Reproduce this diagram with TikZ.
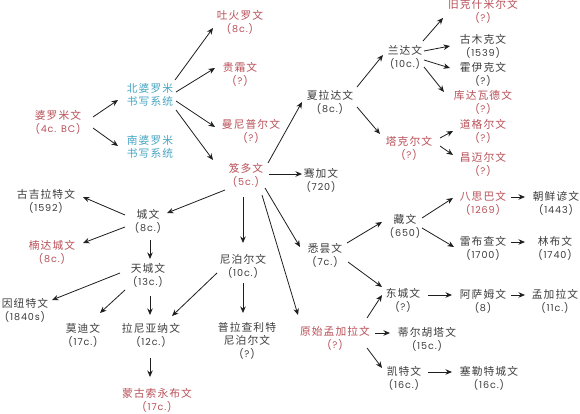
\documentclass[tikz,border=0pt]{standalone}
\usepackage{fontspec}
\setmainfont{Poppins}[LetterSpace=9]
\newfontfamily\cjk{Noto Sans CJK SC}[LetterSpace=10,Scale=1.12]
\usetikzlibrary{arrows.meta,calc}
\definecolor{redt}{RGB}{185,80,88}
\definecolor{bluet}{RGB}{70,165,195}
\definecolor{blackt}{RGB}{60,60,60}
\definecolor{arrc}{RGB}{30,30,30}
\begin{document}
\begin{tikzpicture}[x=1pt,y=-1pt,
  lbl/.style={align=center,inner sep=0pt,text=blackt,font=\fontsize{9.6}{13}\selectfont},
  rl/.style={lbl,text=redt},
  bl/.style={lbl,text=bluet},
  arr/.style={draw=arrc,line width=0.8pt,-{Stealth[length=6.5pt,width=5.5pt]}}]
\useasboundingbox[fill=white] (0,0) rectangle (580,414);
% nodes
\node[rl] (brahmi) at (58,122) {{\cjk 婆罗米文}\\(4c. BC)};
\node[bl] (north) at (150,95) {{\cjk 北婆罗米}\\{\cjk 书写系统}};
\node[bl] (south) at (150,147) {{\cjk 南婆罗米}\\{\cjk 书写系统}};
\node[rl] (tochar) at (240,22) {{\cjk 吐火罗文}\\(8c.)};
\node[rl] (kushan) at (240,74) {{\cjk 贵霜文}\\(?)};
\node[rl] (manipur) at (251,131) {{\cjk 曼尼普尔文}\\(?)};
\node[rl] (gupta) at (246,175) {{\cjk 笈多文}\\(5c.)};
\node[lbl] (sharada) at (330,102) {{\cjk 夏拉达文}\\(8c.)};
\node[lbl] (qianjia) at (321,180) {{\cjk 骞加文}\\(720)};
\node[lbl] (landa) at (405,57) {{\cjk 兰达文}\\(10c.)};
\node[rl] (takri) at (409,148) {{\cjk 塔克尔文}\\(?)};
\node[rl] (oldkash) at (483,11) {{\cjk 旧克什米尔文}\\(?)};
\node[lbl] (gurmukhi) at (483,46) {{\cjk 古木克文}\\(1539)};
\node[lbl] (khojki) at (483,74) {{\cjk 霍伊克文}\\(?)};
\node[rl] (khudawadi) at (483,102) {{\cjk 库达瓦德文}\\(?)};
\node[rl] (dogri) at (483,131) {{\cjk 道格尔文}\\(?)};
\node[rl] (chameali) at (483,164) {{\cjk 昌迈尔文}\\(?)};
\node[lbl] (nagari) at (148,221) {{\cjk 城文}\\(8c.)};
\node[lbl] (gujarati) at (46,201) {{\cjk 古吉拉特文}\\(1592)};
\node[rl] (nandi) at (52,252) {{\cjk 楠达城文}\\(8c.)};
\node[lbl] (deva) at (148,275) {{\cjk 天城文}\\(13c.)};
\node[lbl] (inuit) at (25,310) {{\cjk 因纽特文}\\(1840s)};
\node[lbl] (modi) at (83,335) {{\cjk 莫迪文}\\(17c.)};
\node[lbl] (ranjana) at (151,335) {{\cjk 拉尼亚纳文}\\(12c.)};
\node[rl] (soyombo) at (157,400) {{\cjk 蒙古索永布文}\\(17c.)};
\node[lbl] (nepal) at (243,266) {{\cjk 尼泊尔文}\\(10c.)};
\node[lbl] (prachalit) at (247,341) {{\cjk 普拉查利特}\\{\cjk 尼泊尔文}\\(?)};
\node[lbl] (siddham) at (325,255) {{\cjk 悉昙文}\\(7c.)};
\node[lbl] (tibetan) at (405,226) {{\cjk 藏文}\\(650)};
\node[rl] (phags) at (483,203) {{\cjk 八思巴文}\\(1269)};
\node[lbl] (hangul) at (556,203) {{\cjk 朝鲜谚文}\\(1443)};
\node[lbl] (lepcha) at (483,248) {{\cjk 雷布查文}\\(1700)};
\node[lbl] (limbu) at (555,248) {{\cjk 林布文}\\(1740)};
\node[lbl] (eastnagari) at (403,300) {{\cjk 东城文}\\(?)};
\node[lbl] (assam) at (483,301) {{\cjk 阿萨姆文}\\(8)};
\node[lbl] (bengali) at (555,301) {{\cjk 孟加拉文}\\(11c.)};
\node[rl] (protobeng) at (335,338) {{\cjk 原始孟加拉文}\\(?)};
\node[lbl] (tirhuta) at (427,339) {{\cjk 蒂尔胡塔文}\\(15c.)};
\node[lbl] (kaithi) at (404,378) {{\cjk 凯特文}\\(16c.)};
\node[lbl] (sylheti) at (489,378) {{\cjk 塞勒特城文}\\(16c.)};
% arrows
\draw[arr] ($(brahmi)+(35,-5)$) -- ($(north)+(-32,5)$);
\draw[arr] ($(brahmi)+(35,6)$) -- ($(south)+(-32,-1)$);
\draw[arr] ($(north)+(25,-15)$) -- ($(tochar)+(-27,6)$);
\draw[arr] ($(north)+(26,-3)$) -- ($(kushan)+(-25,-6)$);
\draw[arr] ($(north)+(26,6)$) -- ($(manipur)+(-36,-4)$);
\draw[arr] ($(north)+(26,15)$) -- ($(gupta)+(-33,-15)$);
\draw[arr] ($(gupta)+(22,-12)$) -- ($(sharada)+(-28,0)$);
\draw[arr] ($(gupta)+(23,-1)$) -- ($(qianjia)+(-19,-6)$);
\draw[arr] ($(gupta)+(-21,15)$) -- ($(nagari)+(19,-8)$);
\draw[arr] ($(gupta)+(-3,22)$) -- ($(nepal)+(0,-23)$);
\draw[arr] ($(gupta)+(16,20)$) -- ($(protobeng)+(-37,-23)$);
\draw[arr] ($(gupta)+(19,13)$) -- ($(siddham)+(-25,-8)$);
\draw[arr] ($(sharada)+(27,-15)$) -- ($(landa)+(-22,-2)$);
\draw[arr] ($(sharada)+(27,5)$) -- ($(takri)+(-29,-14)$);
\draw[arr] ($(landa)+(18,-16)$) -- ($(oldkash)+(-40,7)$);
\draw[arr] ($(landa)+(19,-6)$) -- ($(gurmukhi)+(-33,0)$);
\draw[arr] ($(landa)+(19,3)$) -- ($(khojki)+(-33,-6)$);
\draw[arr] ($(landa)+(19,10)$) -- ($(khudawadi)+(-39,-10)$);
\draw[arr] ($(takri)+(31,-10)$) -- ($(dogri)+(-30,0)$);
\draw[arr] ($(takri)+(31,-2)$) -- ($(chameali)+(-30,-9)$);
\draw[arr] ($(nagari)+(-23,-6)$) -- ($(gujarati)+(37,-4)$);
\draw[arr] ($(nagari)+(-23,6)$) -- ($(nandi)+(31,-9)$);
\draw[arr] ($(nagari)+(2,19)$) -- ($(deva)+(2,-16)$);
\draw[arr] ($(deva)+(-28,-2)$) -- ($(inuit)+(27,-10)$);
\draw[arr] ($(deva)+(-23,15)$) -- ($(modi)+(17,-22)$);
\draw[arr] ($(deva)+(2,21)$) -- ($(ranjana)+(-1,-20)$);
\draw[arr] ($(nepal)+(-26,7)$) -- ($(ranjana)+(21,-19)$);
\draw[arr] ($(nepal)+(0,17)$) -- ($(prachalit)+(-4,-28)$);
\draw[arr] ($(ranjana)+(-1,23)$) -- ($(soyombo)+(-7,-23)$);
\draw[arr] ($(siddham)+(22,-12)$) -- ($(tibetan)+(-23,-4)$);
\draw[arr] ($(siddham)+(23,7)$) -- ($(eastnagari)+(-21,-13)$);
\draw[arr] ($(tibetan)+(17,-8)$) -- ($(phags)+(-30,-5)$);
\draw[arr] ($(tibetan)+(17,2)$) -- ($(lepcha)+(-29,-1)$);
\draw[arr] ($(phags)+(28,-6)$) -- ($(hangul)+(-31,-6)$);
\draw[arr] ($(lepcha)+(28,-6)$) -- ($(limbu)+(-30,-6)$);
\draw[arr] ($(eastnagari)+(25,-5)$) -- ($(assam)+(-31,-6)$);
\draw[arr] ($(assam)+(28,-6)$) -- ($(bengali)+(-30,-6)$);
\draw[arr] ($(protobeng)+(32,-20)$) -- ($(eastnagari)+(-21,-5)$);
\draw[arr] ($(protobeng)+(40,-5)$) -- ($(tirhuta)+(-37,-6)$);
\draw[arr] ($(protobeng)+(32,10)$) -- ($(kaithi)+(-22,-10)$);
\draw[arr] ($(kaithi)+(24,-6)$) -- ($(sylheti)+(-37,-6)$);
\end{tikzpicture}
\end{document}
